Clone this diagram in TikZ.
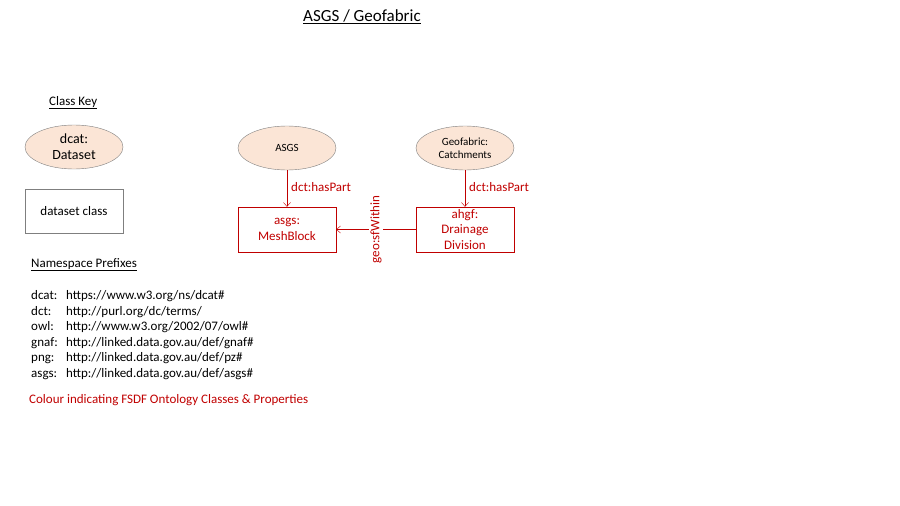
\documentclass[tikz,border=0pt]{standalone}
\usepackage{fontspec}
\setmainfont{Carlito}
\usetikzlibrary{arrows.meta,shapes.geometric}
\definecolor{fsdfred}{HTML}{C00000}
\definecolor{peach}{HTML}{FBE5D6}
\definecolor{edgegray}{HTML}{7F7F7F}
\begin{document}
\begin{tikzpicture}[x=1pt,y=-1pt,
  classell/.style={ellipse,draw=edgegray,fill=peach,minimum width=98pt,minimum height=44pt,inner sep=0pt,align=center,font=\fontsize{11}{13}\selectfont},
  keybox/.style={rectangle,draw=edgegray,minimum width=98pt,minimum height=44pt,inner sep=0pt,align=center,font=\fontsize{13}{15.5}\selectfont},
  fsdfbox/.style={rectangle,draw=fsdfred,text=fsdfred,minimum width=98pt,minimum height=45pt,inner sep=0pt,align=center,font=\fontsize{13}{15.5}\selectfont},
  rel/.style={draw=fsdfred,-{Straight Barb[length=4pt,width=7pt]}},
  rellabel/.style={text=fsdfred,font=\fontsize{13}{15}\selectfont,inner sep=1pt},
  plain/.style={anchor=base west,inner sep=0pt,font=\fontsize{13}{15}\selectfont}]
\useasboundingbox (0,0) rectangle (900,506);
% title
\node[anchor=base,inner sep=0pt,font=\fontsize{17}{20}\selectfont] (title) at (362,21) {\underline{ASGS / Geofabric}};
% class key
\node[anchor=base west,inner sep=0pt,font=\fontsize{13}{15}\selectfont] (key) at (49,105) {\underline{Class Key}};
\node[classell,font=\fontsize{14}{16}\selectfont] (dcat) at (74,147) {dcat:\\Dataset};
\node[keybox] (dsclass) at (74,211) {dataset class};
% main classes
\node[classell] (asgs) at (287,148) {ASGS};
\node[classell] (geo) at (465,148) {Geofabric:\\Catchments};
\node[fsdfbox] (mesh) at (287,229.5) {asgs:\\MeshBlock};
\node[fsdfbox] (ahgf) at (465,229.5) {ahgf:\\Drainage\\Division};
% relations
\draw[rel] (asgs) -- (mesh) node[pos=0.45,right=3pt,rellabel] (lab1) {dct:hasPart};
\draw[rel] (geo) -- (ahgf) node[pos=0.45,right=3pt,rellabel] (lab2) {dct:hasPart};
\draw[rel] (ahgf) -- (mesh) node[midway,rotate=90,rellabel,fill=white] (lab3) {geo:sfWithin};
% namespace prefixes
\node[plain] (nsp) at (31,267) {\underline{Namespace Prefixes}};
\node[plain] (p1) at (31,299) {dcat:};
\node[plain] (u1) at (66,299) {https://www.w3.org/ns/dcat\#};
\node[plain] (p2) at (31,315) {dct:};
\node[plain] (u2) at (66,315) {http://purl.org/dc/terms/};
\node[plain] (p3) at (31,330) {owl:};
\node[plain] (u3) at (66,330) {http://www.w3.org/2002/07/owl\#};
\node[plain] (p4) at (31,346) {gnaf:};
\node[plain] (u4) at (66,346) {http://linked.data.gov.au/def/gnaf\#};
\node[plain] (p5) at (31,361) {png:};
\node[plain] (u5) at (66,361) {http://linked.data.gov.au/def/pz\#};
\node[plain] (p6) at (31,377) {asgs:};
\node[plain] (u6) at (66,377) {http://linked.data.gov.au/def/asgs\#};
\node[plain,text=fsdfred] (note) at (29,403) {Colour indicating FSDF Ontology Classes \& Properties};
\end{tikzpicture}
\end{document}
